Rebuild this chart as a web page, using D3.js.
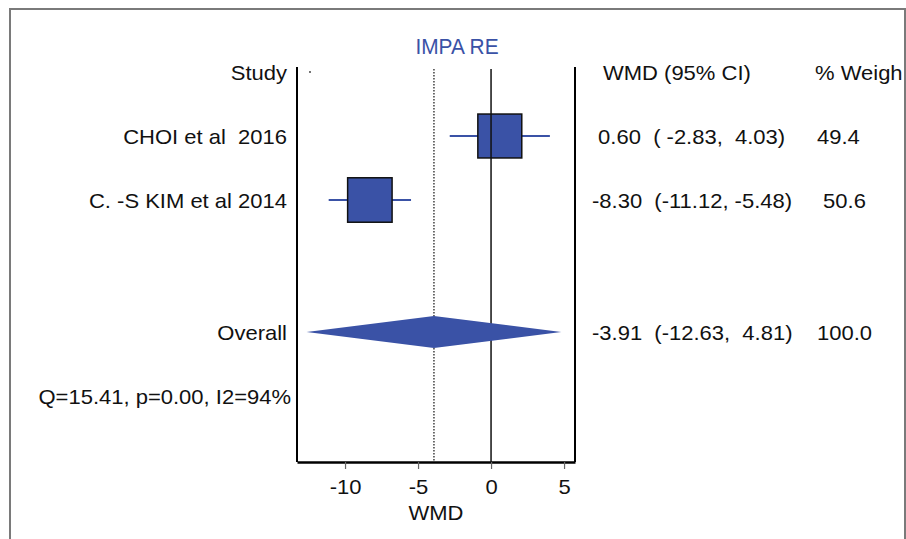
<!DOCTYPE html>
<html><head><meta charset="utf-8">
<script src="https://cdn.jsdelivr.net/npm/d3@7"></script>
<style>body{margin:0;background:#fff}svg{display:block}text{font-family:"Liberation Sans",Arial,sans-serif;white-space:pre}</style>
</head><body><svg id="c" width="906" height="539"></svg>
<script>
const studies = ["CHOI et al  2016", "C. -S KIM et al 2014"];
const wmd = [0.60, -8.30];
const lower = [-2.83, -11.12];
const upper = [4.03, -5.48];
const weights = [49.4, 50.6];
const ciText = [" 0.60  ( -2.83,  4.03)", "-8.30  (-11.12, -5.48)"];
const weightText = ["49.4", " 50.6"];
const overall = {est: -3.91, lo: -12.63, hi: 4.81, ci: "-3.91  (-12.63,  4.81)", w: "100.0"};
const heterogeneity = "Q=15.41, p=0.00, I2=94%";
const xTicks = [-10, -5, 0, 5];
const title = "IMPA RE";

(function () {
const svg = d3.select("#c");
const blue = "#3a52a6";
const ink = "#111";
const fs = 20, sx = 1.1;
const x = d3.scaleLinear().domain([-13.29, 5.75]).range([297, 575]);
const yHead = 72, yRows = [136, 200], yOverall = 332, yQ = 397;
const yTop = 67, yBottom = 462;

function label(px, py, str, anchor, color, size, scale) {
  return svg.append("text").attr("transform", `translate(${px},${py}) scale(${scale || sx},1)`)
    .attr("text-anchor", anchor || "start").attr("font-size", size || fs).attr("fill", color || ink).text(str);
}

// outer frame
svg.append("rect").attr("x", 10).attr("y", 9).attr("width", 895).attr("height", 560)
  .attr("fill", "none").attr("stroke", "#7a7a7a").attr("stroke-width", 2);

// title
label(457, 54, title, "middle", blue, 22, 0.95);

// plot frame vertical lines
svg.append("line").attr("x1", 297).attr("x2", 297).attr("y1", yTop).attr("y2", yBottom).attr("stroke", "#000").attr("stroke-width", 2);
svg.append("line").attr("x1", 575).attr("x2", 575).attr("y1", yTop).attr("y2", yBottom).attr("stroke", "#000").attr("stroke-width", 2);

// axis
const ax = svg.append("g").attr("transform", `translate(0,${yBottom})`)
  .call(d3.axisBottom(x).tickValues(xTicks).tickSize(7).tickSizeOuter(0).tickFormat(d => String(d)));
ax.select(".domain").attr("stroke", "#000").attr("stroke-width", 2.5);
ax.selectAll(".tick line").attr("stroke", "#666").attr("stroke-width", 1.2);
ax.selectAll(".tick text").attr("font-size", fs).attr("fill", ink).attr("y", 0)
  .attr("dy", 0).attr("transform", `translate(0,32) scale(${sx},1)`)
  .attr("font-family", "Liberation Sans, Arial, sans-serif");
label(436, 520, "WMD", "middle");

// overall dotted line
svg.append("line").attr("x1", x(overall.est)).attr("x2", x(overall.est)).attr("y1", yTop + 2).attr("y2", yBottom)
  .attr("stroke", "#222").attr("stroke-width", 1.3).attr("stroke-dasharray", "1.5,1.5");
// small dot
svg.append("circle").attr("cx", 310).attr("cy", 72).attr("r", 0.9).attr("fill", "#333");

// headers
label(287, yHead + 8, "Study", "end");
label(603, yHead + 8, "WMD (95% CI)");
label(815, yHead + 8, "% Weigh");

// studies
const side = w => 6.25 * Math.sqrt(w);
studies.forEach((s, i) => {
  const y = yRows[i];
  label(287, y + 8, s, "end");
  svg.append("line").attr("x1", x(lower[i])).attr("x2", x(upper[i])).attr("y1", y).attr("y2", y).attr("stroke", blue).attr("stroke-width", 2);
  const sd = side(weights[i]);
  svg.append("rect").attr("x", x(wmd[i]) - sd / 2).attr("y", y - sd / 2).attr("width", sd).attr("height", sd)
    .attr("fill", blue).attr("stroke", ink).attr("stroke-width", 1.5);
  label(592, y + 8, ciText[i]);
  label(817, y + 8, weightText[i]);
});
// zero line over boxes
svg.append("line").attr("x1", x(0)).attr("x2", x(0)).attr("y1", yTop + 2).attr("y2", yBottom).attr("stroke", ink).attr("stroke-width", 1.5);

// overall diamond
const dh = 16;
svg.append("path").attr("d", `M${x(overall.lo)},${yOverall} L${x(overall.est)},${yOverall - dh} L${x(overall.hi)},${yOverall} L${x(overall.est)},${yOverall + dh} Z`)
  .attr("fill", blue);
label(287, yOverall + 8, "Overall", "end");
label(592, yOverall + 8, overall.ci);
label(817, yOverall + 8, overall.w);
label(291, yQ + 7, heterogeneity, "end");
})();
</script></body></html>
